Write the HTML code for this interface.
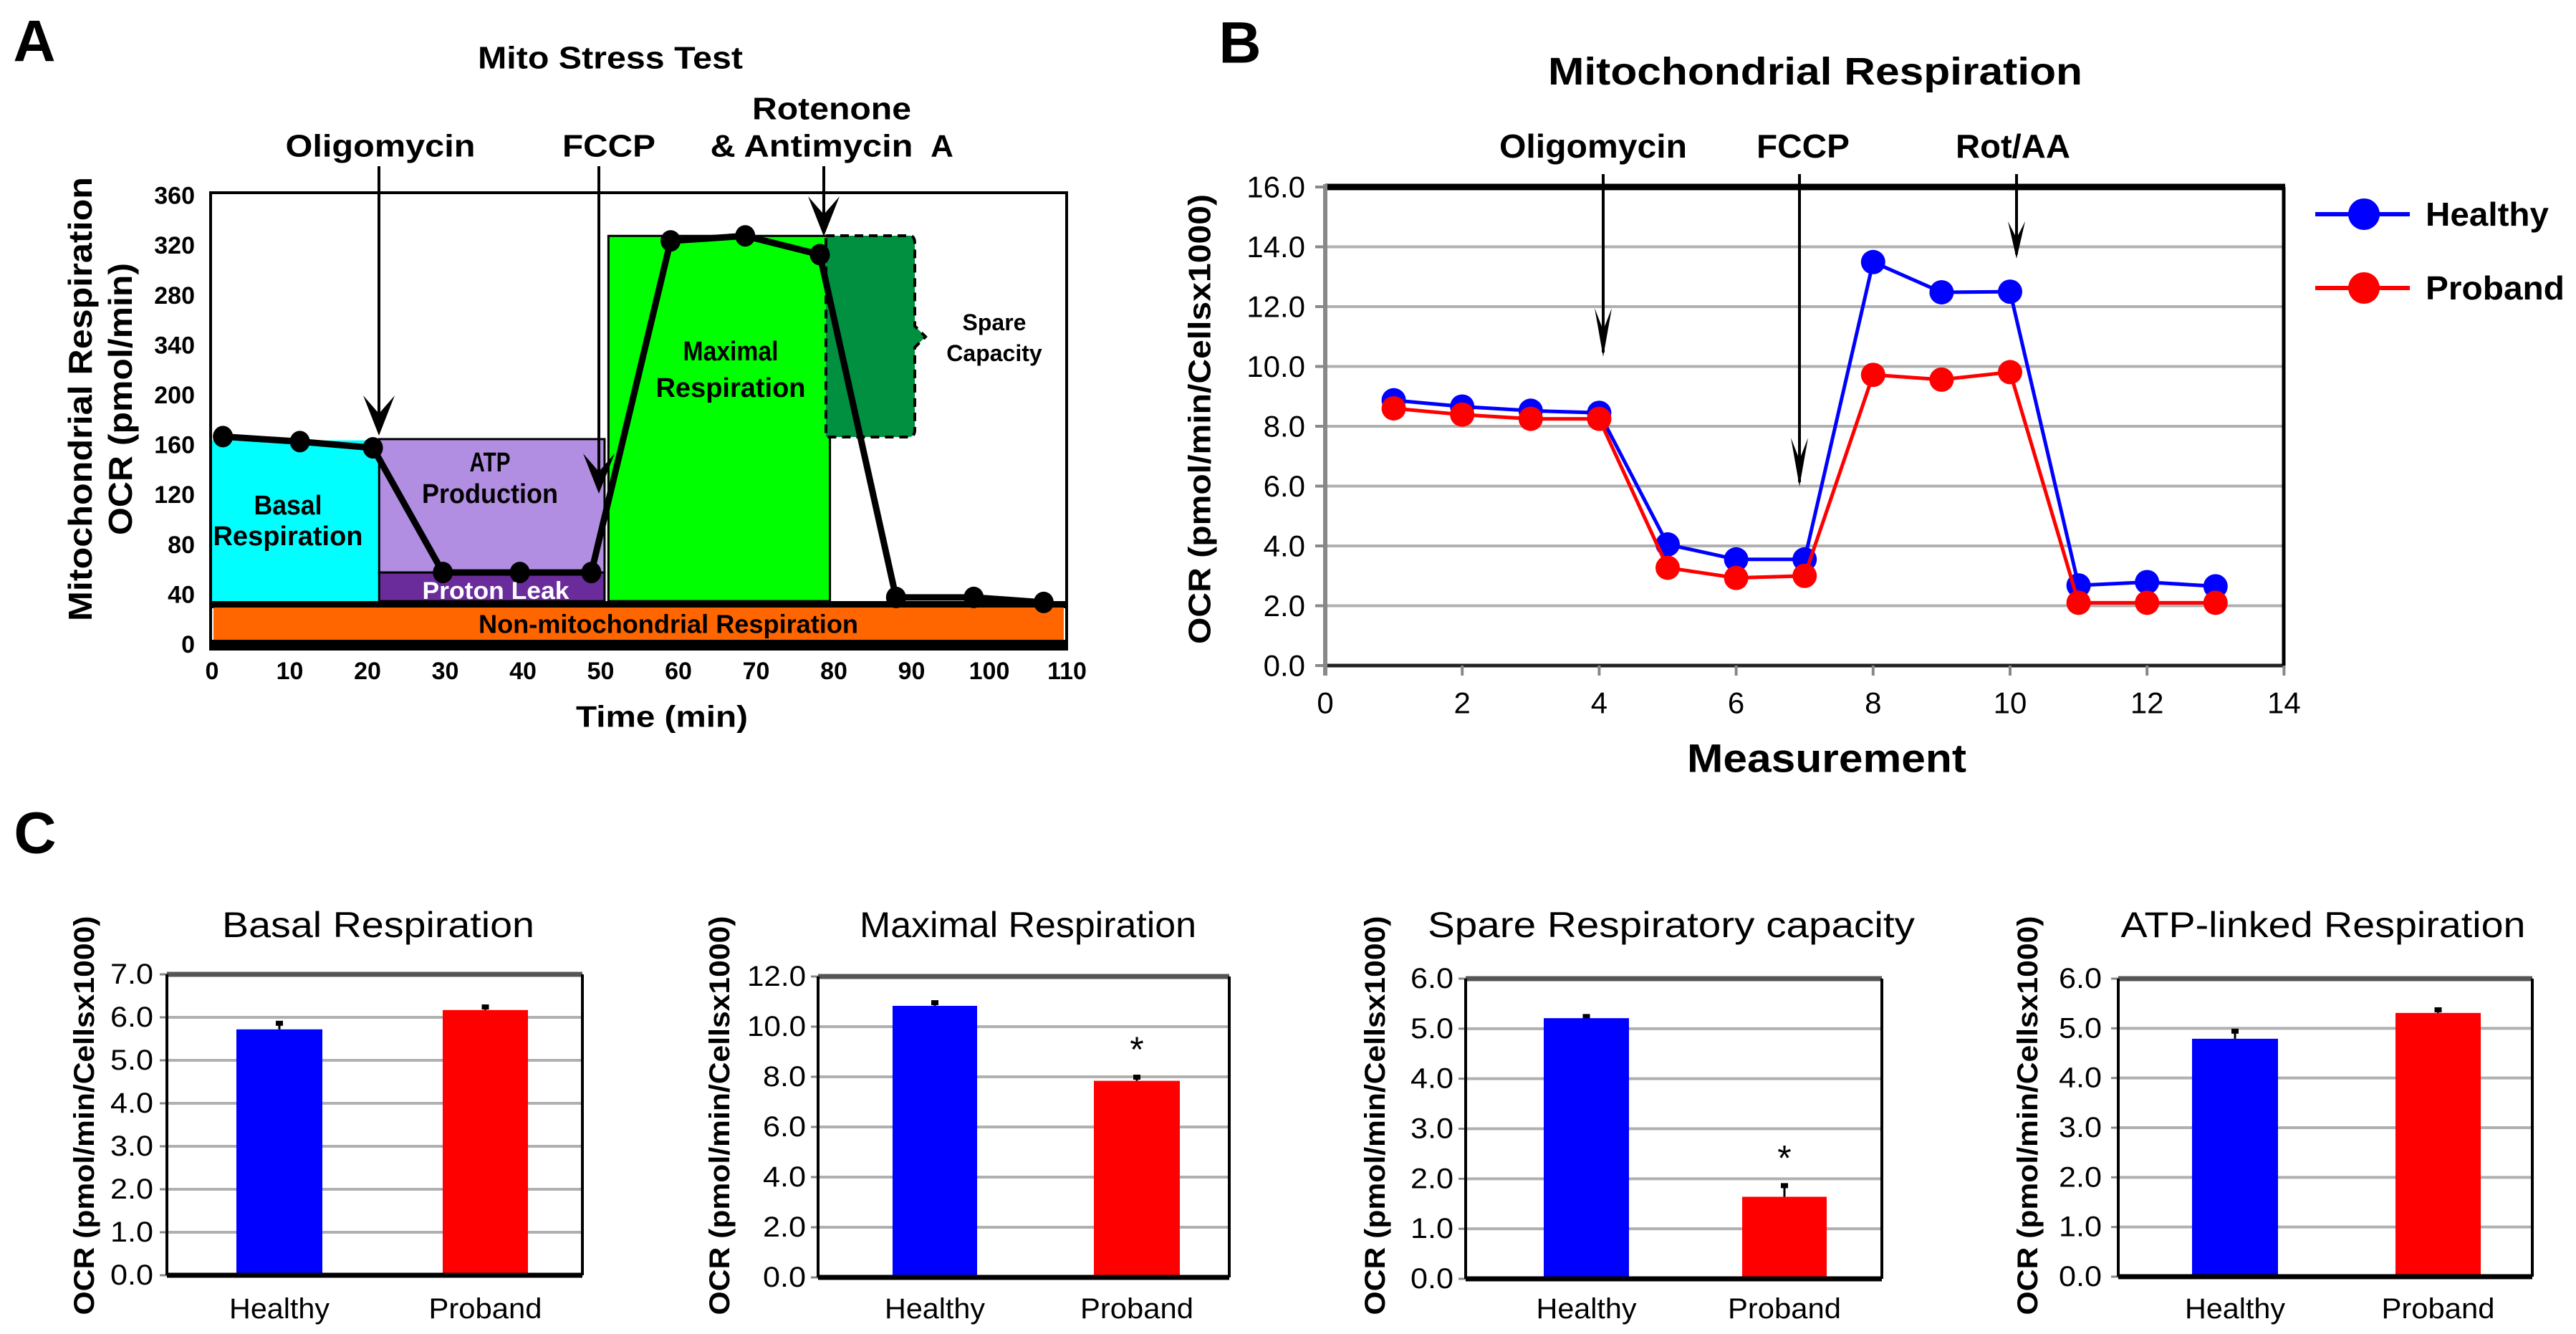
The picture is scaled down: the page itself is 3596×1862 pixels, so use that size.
<!DOCTYPE html>
<html><head><meta charset="utf-8"><style>
html,body{margin:0;padding:0;background:#fff;}
svg{display:block;font-family:"Liberation Sans",Arial,sans-serif;}
</style></head><body>
<svg id="fig" width="3596" height="1862" viewBox="0 0 3596 1862" xmlns="http://www.w3.org/2000/svg"></svg>
<script>
// ---------- Panel A data ----------
const aTimes = [1.4, 11.3, 20.7, 29.7, 39.6, 48.8, 59, 68.6, 78.2, 88, 98, 107];
const aOCR = [167, 163, 158, 58, 58, 58, 324, 328, 313, 38, 38, 34];
const aXTicks = [0,10,20,30,40,50,60,70,80,90,100,110];
const aYTickVals = [0,40,80,120,160,200,240,280,320,360];
const aYTickLabels = ["0","40","80","120","160","200","340","280","320","360"];
// ---------- Panel B data ----------
const bMeasurements = [1,2,3,4,5,6,7,8,9,10,11,12,13];
const bHealthy = [8.87,8.66,8.52,8.45,4.05,3.55,3.55,13.49,12.48,12.5,2.68,2.79,2.65];
const bProband = [8.6,8.39,8.25,8.25,3.27,2.93,3.0,9.72,9.56,9.81,2.1,2.1,2.1];
const bXTicks = [0,2,4,6,8,10,12,14];
const bYTicks = [0,2,4,6,8,10,12,14,16];
const bYTickLabels = ["0.0","2.0","4.0","6.0","8.0","10.0","12.0","14.0","16.0"];
// ---------- Panel C data ----------
const cTitles = ["Basal  Respiration","Maximal  Respiration","Spare  Respiratory capacity","ATP-linked Respiration"];
const cCategories = ["Healthy","Proband"];
const cMax = [7,12,6,6];
const cStep = [1,2,1,1];
const cHealthy = [5.72,10.83,5.21,4.79];
const cProband = [6.17,7.84,1.64,5.31];
const cHealthyErr = [0.15,0.14,0.04,0.16];
const cProbandErr = [0.08,0.16,0.23,0.07];
const cSig = [false,true,true,false];

const NS="http://www.w3.org/2000/svg";
const svg=document.getElementById('fig');
function mk(tag,attrs,parent){const e=document.createElementNS(NS,tag);for(const k in attrs)e.setAttribute(k,attrs[k]);(parent||svg).appendChild(e);return e;}
function tx(str,x,y,size,opts,parent){
  opts=opts||{};
  const e=mk('text',{x:x,y:y,'font-size':size,'text-anchor':opts.anchor||'middle','dominant-baseline':'central','font-weight':opts.bold?'bold':'normal',fill:opts.fill||'#000'},parent);
  if(opts.len){e.setAttribute('textLength',opts.len);e.setAttribute('lengthAdjust','spacingAndGlyphs');}
  if(opts.rot){e.setAttribute('transform','rotate(-90 '+x+' '+y+')');}
  e.textContent=str;return e;
}
let el;

// ================= PANEL A =================
const xA=t=>296+t*10.85;
const yA=v=>900-v*1.74;
el=tx("A",48,58,82,{bold:true});


el=tx("Mito Stress Test",852,81,44,{bold:true,len:370});



const gA=mk('g',{});


// frame background
mk('rect',{x:294,y:269,width:1195,height:637,fill:'#fff',stroke:'#000','stroke-width':4},gA);
// regions
el=mk('rect',{x:xA(0),y:yA(164),width:xA(21.5)-xA(0),height:yA(35)-yA(164),fill:'#00ffff'},gA);


el=mk('rect',{x:xA(21.5),y:yA(165),width:xA(50.5)-xA(21.5),height:yA(58)-yA(165),fill:'#b28ee2',stroke:'#000','stroke-width':3},gA);


el=mk('rect',{x:xA(21.5),y:yA(58),width:xA(50.5)-xA(21.5),height:yA(35)-yA(58),fill:'#6a2c9a',stroke:'#000','stroke-width':3},gA);


el=mk('rect',{x:xA(51),y:yA(328),width:xA(79.5)-xA(51),height:yA(35)-yA(328),fill:'#00ff00',stroke:'#000','stroke-width':3},gA);


el=mk('path',{d:'M1153 329 L1270 329 Q1277 329 1277 340 L1277 455 L1292 470 L1277 485 L1277 600 Q1277 610 1268 610 L1153 610 Z',fill:'#009040',stroke:'#000','stroke-width':4,'stroke-dasharray':'12 8'},gA);


mk('rect',{x:294,y:839,width:1195,height:10,fill:'#000'},gA);
el=mk('rect',{x:298,y:848,width:1187,height:45,fill:'#ff6600'},gA);


mk('rect',{x:292,y:893,width:1199,height:13,fill:'#000'},gA);
// region labels
const regionLabels=[["Basal",402,706,'#000'],["Respiration",402,749,'#000'],["ATP",684,646,'#000'],["Production",684,690,'#000'],["Maximal",1020,491,'#000'],["Respiration",1020,542,'#000']];
regionLabels.forEach(r=>{el=tx(r[0],r[1],r[2],38,{bold:true,fill:r[3],len:r[0].length*19});

});
el=tx("Proton Leak",692,825,34,{bold:true,fill:'#fff',len:205});


el=tx("Non-mitochondrial Respiration",933,871,36,{bold:true,len:530});


el=tx("Spare",1388,450,32,{bold:true});


el=tx("Capacity",1388,493,32,{bold:true});


// trace
let pts=aTimes.map((t,i)=>xA(t)+','+yA(aOCR[i])).join(' ');
el=mk('polyline',{points:pts,fill:'none',stroke:'#000','stroke-width':9,'stroke-linejoin':'round'},gA);


aTimes.forEach((t,i)=>{el=mk('ellipse',{cx:xA(t),cy:yA(aOCR[i]),rx:14,ry:15,fill:'#000'},gA);

});
// injection arrows A
function arrow(x,y1,y2,w,h,parent){mk('line',{x1:x,y1:y1,x2:x,y2:y2-6,stroke:'#000','stroke-width':4},parent);
return mk('path',{d:`M${x-w} ${y2-h} L${x} ${y2} L${x+w} ${y2-h} L${x} ${y2-h*0.55} Z`,fill:'#000'},parent);}
const aArrows=[[529,232,608,"Oligomycin",531],[836,232,689,"FCCP",850],[1150,232,330,"",0]];
aArrows.forEach(a=>{el=arrow(a[0],a[1],a[2],22,56,svg);

});
el=tx("Oligomycin",531,204,44,{bold:true,len:265});


el=tx("FCCP",850,204,44,{bold:true,len:130});


el=tx("Rotenone",1161,152,44,{bold:true,len:222});


el=tx("& Antimycin",1133,204,44,{bold:true,len:283});


el=tx("A",1315,204,44,{bold:true});


// axes ticks
aYTickVals.forEach((v,i)=>{el=tx(aYTickLabels[i],272,yA(v),34,{bold:true,anchor:'end'});

});
aXTicks.forEach(t=>{el=tx(String(t),xA(t),937,34,{bold:true});

});
el=tx("Time (min)",924,1000,42,{bold:true,len:240});


el=tx("Mitochondrial Respiration",112,557,46,{bold:true,rot:true,len:620});


el=tx("OCR (pmol/min)",168,557,46,{bold:true,rot:true,len:380});



// ================= PANEL B =================
const xB=m=>1850+m*95.6;
const yB=v=>929-v*41.75;
el=tx("B",1731,60,82,{bold:true});


el=tx("Mitochondrial Respiration",2534,100,54,{bold:true,len:746});


const gB=mk('g',{});


bYTicks.forEach((v,i)=>{
 if(v>0&&v<16){el=mk('line',{x1:1850,y1:yB(v),x2:3188,y2:yB(v),stroke:'#b0b0b0','stroke-width':4},gB);
 
 }
 mk('line',{x1:1836,y1:yB(v),x2:1850,y2:yB(v),stroke:'#888','stroke-width':4},gB);
 el=tx(bYTickLabels[i],1822,yB(v),42,{anchor:'end'},gB);
 
 
});
mk('line',{x1:1850,y1:yB(0),x2:3188,y2:yB(0),stroke:'#222','stroke-width':5},gB);
mk('line',{x1:1850,y1:yB(16),x2:3190,y2:yB(16),stroke:'#000','stroke-width':9},gB);
mk('line',{x1:3188,y1:yB(16),x2:3188,y2:yB(0),stroke:'#000','stroke-width':5},gB);
mk('line',{x1:1850,y1:yB(16)-4,x2:1850,y2:yB(0)+14,stroke:'#888','stroke-width':6},gB);
bXTicks.forEach(m=>{mk('line',{x1:xB(m),y1:yB(0),x2:xB(m),y2:yB(0)+14,stroke:'#888','stroke-width':4},gB);
 el=tx(String(m),xB(m),981,42,{},gB);
 
 });
el=tx("Measurement",2550,1058,56,{bold:true,len:390});


el=tx("OCR (pmol/min/Cellsx1000)",1675,585,44,{bold:true,rot:true,len:628});


// series
function series(vals,color,name){
 el=mk('polyline',{points:bMeasurements.map((m,i)=>xB(m)+','+yB(vals[i])).join(' '),fill:'none',stroke:color,'stroke-width':5},gB);
 
 
 bMeasurements.forEach((m,i)=>{el=mk('circle',{cx:xB(m),cy:yB(vals[i]),r:17,fill:color},gB);
 
 });
}
series(bHealthy,'#0000ff','healthy');
series(bProband,'#ff0000','proband');
// arrows B
el=arrow(2238,243,498,12,68,svg);


el=arrow(2512,243,679,12,68,svg);


el=arrow(2815,243,361,12,52,svg);


el=tx("Oligomycin",2224,204,46,{bold:true,len:262});


el=tx("FCCP",2517,204,46,{bold:true,len:130});


el=tx("Rot/AA",2810,204,46,{bold:true,len:160});


// legend
const legend=[["Healthy",'#0000ff',299],["Proband",'#ff0000',402]];
legend.forEach(l=>{const g=mk('g',{});
 
 
 mk('line',{x1:3232,y1:l[2],x2:3364,y2:l[2],stroke:l[1],'stroke-width':6},g);
 mk('circle',{cx:3300,cy:l[2],r:22,fill:l[1]},g);
 tx(l[0],3386,l[2],46,{bold:true,anchor:'start',len:l[0]==="Healthy"?172:194},g);});

// ================= PANEL C =================
el=tx("C",49,1163,82,{bold:true});


const cLayout=[
 {l:233,r:813,t:1360,b:1780,hx:[330,450],px:[618,737],tick:214,yt:118,tc:528,tw:436},
 {l:1142,r:1716,t:1363,b:1783,hx:[1246,1364],px:[1527,1647],tick:1125,yt:1005,tc:1435,tw:470},
 {l:2046,r:2627,t:1366,b:1785,hx:[2155,2274],px:[2432,2550],tick:2029,yt:1920,tc:2333,tw:680},
 {l:2957,r:3535,t:1366,b:1782,hx:[3060,3180],px:[3344,3463],tick:2934,yt:2831,tc:3243,tw:565}
];
cLayout.forEach((L,k)=>{
 const g=mk('g',{});
 
 
 const y=v=>L.b-(v/cMax[k])*(L.b-L.t);
 for(let v=0;v<=cMax[k]+1e-9;v+=cStep[k]){
  if(v>0&&v<cMax[k]){el=mk('line',{x1:L.l,y1:y(v),x2:L.r,y2:y(v),stroke:'#b0b0b0','stroke-width':4},g);
  
  }
  mk('line',{x1:L.l-10,y1:y(v),x2:L.l,y2:y(v),stroke:'#888','stroke-width':3},g);
  el=tx(v.toFixed(1),L.tick,y(v),40,{anchor:'end',len:v>=10?82:60},g);
  
  
 }
 mk('line',{x1:L.l,y1:L.t,x2:L.r,y2:L.t,stroke:'#555','stroke-width':7},g);
 mk('line',{x1:L.r,y1:L.t,x2:L.r,y2:L.b,stroke:'#000','stroke-width':4},g);
 mk('line',{x1:L.l,y1:L.t,x2:L.l,y2:L.b,stroke:'#000','stroke-width':4},g);
 // bars
 const vals=[cHealthy[k],cProband[k]],errs=[cHealthyErr[k],cProbandErr[k]],xs=[L.hx,L.px],cols=['#0000ff','#ff0000'];
 vals.forEach((v,i)=>{
  const cx=(xs[i][0]+xs[i][1])/2;
  mk('line',{x1:cx,y1:y(v),x2:cx,y2:y(v+errs[i]),stroke:'#000','stroke-width':3},g);
  mk('rect',{x:cx-5,y:y(v+errs[i])-3,width:10,height:7,fill:'#000'},g);
  el=mk('rect',{x:xs[i][0],y:y(v),width:xs[i][1]-xs[i][0],height:y(0)-y(v),fill:cols[i]},g);
  
  
  el=tx(cCategories[i],cx,1827,40,{len:cCategories[i]==="Healthy"?140:158},g);
  
  
  if(i===1&&cSig[k]){el=tx("*",cx,y(v+errs[i])-38,50,{},g);
  
  }
 });
 mk('line',{x1:L.l,y1:L.b,x2:L.r,y2:L.b,stroke:'#000','stroke-width':7},g);
 el=tx(cTitles[k],L.tc,1291,50,{len:L.tw},g);
 
 
 el=tx("OCR (pmol/min/Cellsx1000)",L.yt,1557,40,{bold:true,rot:true,len:557},g);
 
 
});
</script>
</body></html>
